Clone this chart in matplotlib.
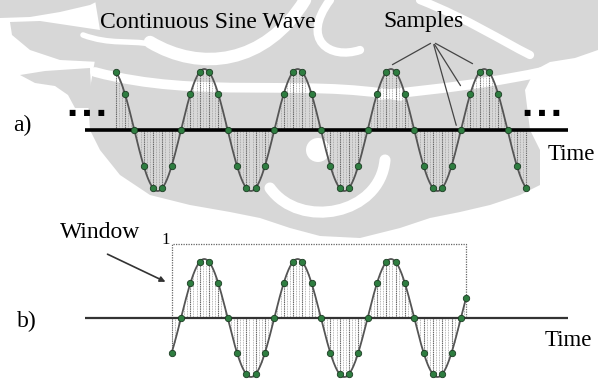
import numpy as np
import matplotlib.pyplot as plt
from matplotlib.path import Path
from matplotlib.patches import PathPatch, Polygon

# sine wave description (time in cycles, amplitude in units)
samples_per_cycle = 10
span_a = [-0.70, 3.69]          # visible part of the continuous wave
samples_a = np.arange(-7, 38)   # sample indices drawn in a)
axis_a = [-1.03, 4.15]
span_b = [-0.10, 3.055]         # the window
samples_b = np.arange(-1, 31)
window_level = 1.25
axis_b = [-1.03, 4.15]

W, H = 598, 383
fig = plt.figure(figsize=(W / 100, H / 100), dpi=100)
plt.rcParams['font.family'] = ['Liberation Serif', 'DejaVu Serif']

# ---- background watermark (pixel coords) ----
bg = fig.add_axes([0, 0, 1, 1])
bg.set_xlim(0, W)
bg.set_ylim(H, 0)
bg.axis('off')
gray = '#d7d7d7'
shapes = [
    [(0, 0), (100, 0), (90, 5), (60, 12), (30, 17), (0, 18)],
    [(10, 22), (40, 21), (80, 27), (100, 30), (100, 62), (60, 60), (30, 50), (12, 35)],
    [(20, 75), (45, 71), (90, 68), (92, 108), (75, 108), (68, 95), (55, 86), (35, 83)],
    [(95, 0), (598, 0), (598, 50), (575, 58), (550, 62), (535, 70), (525, 90), (530, 130),
     (540, 150), (540, 185), (520, 195), (490, 205), (460, 212), (430, 218), (400, 228),
     (360, 238), (320, 236), (290, 228), (260, 218), (230, 212), (190, 205), (150, 195),
     (120, 175), (100, 150), (90, 130), (88, 100), (95, 60), (100, 30)],
]
for s in shapes:
    bg.add_patch(Polygon(s, closed=True, fc=gray, ec='none'))

strokes = [
    ([(150, 42), (200, 72), (265, 65), (305, 0)], 9),
    ([(95, 72), (200, 100), (300, 78), (400, 96)], 7),
    ([(380, 95), (450, 88), (520, 80), (600, 58)], 7),
    ([(83, 35), (110, 45), (130, 40), (150, 44)], 4),
    ([(270, 188), (300, 230), (380, 215), (385, 160)], 8),
    ([(420, 0), (470, 20), (500, 40), (530, 55)], 6),
    ([(330, 0), (300, 40), (330, 60), (360, 50)], 6),
]
for pts, lw in strokes:
    path = Path(pts, [Path.MOVETO, Path.CURVE4, Path.CURVE4, Path.CURVE4])
    bg.add_patch(PathPatch(path, fc='none', ec='white', lw=lw, capstyle='round'))
circ = plt.Circle((318, 150), 12, fc='white', ec='none')
bg.add_patch(circ)


def wave_axes(y0_px, amp_px):
    ax = fig.add_axes([0, 0, 1, 1])
    ax.patch.set_alpha(0)
    ax.set_xlim(-181 / 93.3, (W - 181) / 93.3)
    ax.set_ylim((y0_px - H) / amp_px, y0_px / amp_px)
    ax.axis('off')
    return ax


def draw_wave(ax, span, samples):
    t = np.linspace(span[0], span[1], 800)
    ax.plot(t, np.sin(2 * np.pi * t), color='#555555', lw=1.3, zorder=3)
    tf = np.arange(np.ceil(span[0] * 30), np.floor(span[1] * 30) + 1) / 30
    ax.vlines(tf, 0, np.sin(2 * np.pi * tf), colors='#a0a0a0', lw=0.6,
              linestyles=(0, (1, 1)), zorder=2)
    ts = samples / samples_per_cycle
    ys = np.sin(2 * np.pi * ts)
    ax.vlines(ts, 0, ys, colors='#606060', lw=0.8, linestyles=(0, (1, 1)), zorder=2)
    ax.plot(ts, ys, 'o', ms=4.6, mfc='#2e7d40', mec='#1b3b22', mew=0.6, zorder=4)


# ---- a) ----
ax_a = wave_axes(130, 61)
draw_wave(ax_a, span_a, samples_a)
ax_a.hlines(0, *axis_a, color='black', lw=2.6, zorder=3)

# ---- b) ----
ax_b = wave_axes(318, 59)
draw_wave(ax_b, span_b, samples_b)
ax_b.plot([span_b[1]], [np.sin(2 * np.pi * span_b[1])], 'o', ms=4.6,
          mfc='#2e7d40', mec='#1b3b22', mew=0.6, zorder=4)
ax_b.plot([span_b[0], span_b[0], span_b[1], span_b[1]], [0, window_level, window_level, 0],
          color='#666666', lw=0.9, ls=(0, (1, 1)), zorder=2)
ax_b.hlines(0, *axis_b, color='#333333', lw=1.6, zorder=3)

# ---- labels (pixel coords) ----
tx = fig.add_axes([0, 0, 1, 1])
tx.patch.set_alpha(0)
tx.set_xlim(0, W)
tx.set_ylim(H, 0)
tx.axis('off')
fs = 17
tx.text(100, 23, 'Continuous Sine Wave', fontsize=fs, va='center', ha='left')
tx.text(383, 22, 'Samples', fontsize=fs, va='center', ha='left')
tx.text(13, 125, 'a)', fontsize=fs, va='center', ha='left')
tx.text(548, 154, 'Time', fontsize=fs - 0.5, va='center', ha='left')
tx.text(60, 233, 'Window', fontsize=fs, va='center', ha='left')
tx.text(161, 240, '1', fontsize=12, va='center', ha='left')
tx.text(17, 321, 'b)', fontsize=fs, va='center', ha='left')
tx.text(545, 340, 'Time', fontsize=fs - 0.5, va='center', ha='left')
for x in (69, 524):
    tx.text(x, 112, '■   ■   ■', fontsize=5.5, va='center', ha='left', family='DejaVu Sans')

for target in [(390, 66), (457, 128), (462, 88), (475, 65)]:
    tx.annotate('', xy=target, xytext=(433, 42),
                arrowprops=dict(arrowstyle='-', color='#444444', lw=0.9))
tx.annotate('', xy=(168, 283), xytext=(105, 253),
            arrowprops=dict(arrowstyle='-|>', color='#333333', lw=1.2, mutation_scale=8))

fig.savefig('out.png', dpi=100)
